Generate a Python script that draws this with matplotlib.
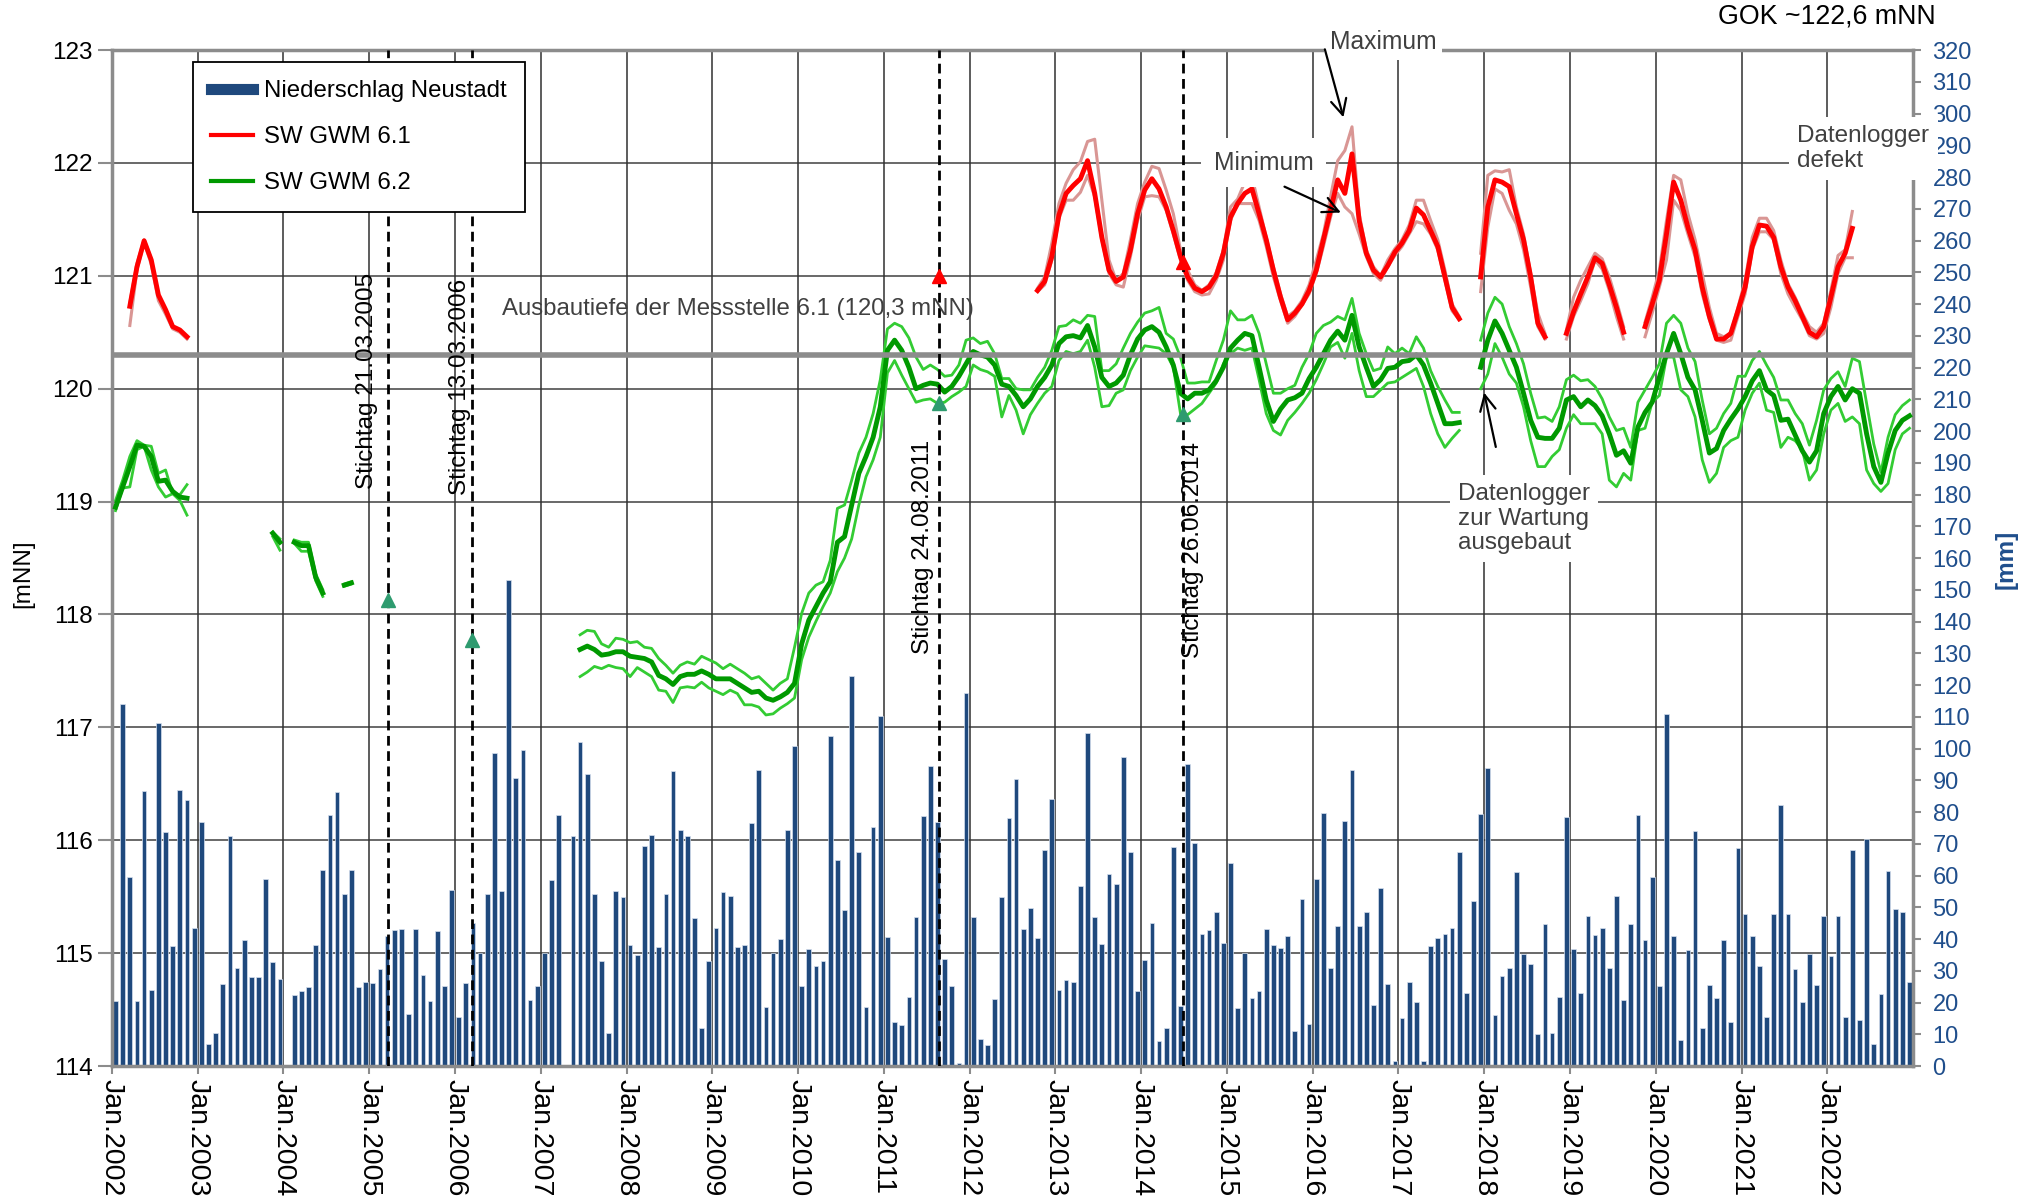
import matplotlib
matplotlib.use('Agg')
import matplotlib.pyplot as plt
from matplotlib.lines import Line2D
import numpy as np

plt.rcParams['font.family'] = ['Liberation Sans', 'DejaVu Sans']

# monthly precipitation Neustadt [mm], Jan 2002 .. Dec 2022
precip = [
    20.5, 114, 59.4, 20.4, 86.7, 23.8, 108, 73.8, 37.9, 87, 83.8, 43.4,
    77, 7.1, 10.3, 25.7, 72.3, 30.9, 39.8, 28, 28, 59, 32.8, 27.3,
    0, 22.5, 23.6, 25, 38.1, 61.8, 79, 86.4, 54.3, 61.6, 25, 26.5,
    26.1, 30.7, 40.9, 42.7, 43.1, 16.5, 43.3, 28.7, 20.5, 42.5, 25.1, 55.4,
    15.3, 26.2, 45.1, 35.5, 54.3, 98.7, 55.2, 153, 90.7, 99.5, 20.9, 25.3,
    35.6, 58.5, 79.2, 0, 72.5, 102, 92, 54.3, 33, 10.3, 55.1, 53.3,
    38.2, 35.1, 69.2, 72.9, 37.5, 54.1, 93, 74.2, 72.5, 46.7, 12.1, 33,
    43.6, 54.8, 53.6, 37.4, 38, 76.4, 93.3, 18.5, 35.5, 40.1, 74.2, 100.9,
    25.2, 37, 31.4, 33.2, 104, 65, 49.2, 123, 67.5, 18.5, 75.2, 110.2,
    40.8, 13.9, 13, 21.9, 47.1, 78.7, 94.4, 76.9, 33.6, 25.2, 1, 117.4,
    47, 8.5, 6.7, 21.2, 53.2, 78, 90.4, 43.3, 49.9, 40.3, 68.1, 84.2,
    23.8, 27.1, 26.6, 56.8, 104.8, 47.1, 38.5, 60.5, 57.4, 97.4, 67.5, 23.6,
    33.5, 44.9, 8, 12.1, 68.9, 18.8, 95, 70.2, 41.5, 42.7, 48.6, 38.7,
    63.9, 18.3, 35.6, 21.3, 23.5, 43.3, 38.1, 37.3, 41, 10.9, 52.7, 13.3,
    59, 79.7, 30.9, 44, 77.1, 93.3, 44.2, 48.6, 19.3, 56.2, 25.7, 1.7,
    15, 26.4, 20.1, 1.7, 37.8, 40.2, 41.7, 43.6, 67.5, 23.1, 52.1, 79.3,
    93.9, 16, 28.5, 30.8, 61.1, 35.3, 32.2, 10, 44.6, 10.5, 21.6, 78.4,
    37, 23, 47.3, 41.2, 43.5, 30.9, 53.6, 20.9, 44.8, 79, 39.6, 59.4,
    25.1, 111, 41, 8.3, 36.6, 74.1, 12.1, 25.6, 21.4, 39.6, 13.8, 68.8,
    47.9, 41, 31.4, 15.4, 47.8, 82.1, 47.8, 30.6, 20.3, 35.2, 25.6, 47.3,
    34.8, 47.3, 15.4, 68, 14.5, 71.4, 6.9, 22.6, 61.4, 49.6, 48.6, 26.6,
]
years = list(range(2002, 2023))

# SW GWM 6.1 [mNN] - segments (first month index, month index 0 = Jan 2002)
gwm61_start = [2, 129, 191, 203, 214]
gwm61_mid = [
    [120.73, 121.08, 121.31, 121.14, 120.83, 120.70, 120.55, 120.52, 120.46],
    [120.87, 120.95, 121.17, 121.54, 121.73, 121.80, 121.86, 122.02, 121.73, 121.34,
     121.05, 120.95, 120.99, 121.23, 121.55, 121.76, 121.86, 121.77, 121.61, 121.40,
     121.17, 120.99, 120.89, 120.86, 120.90, 121.00, 121.20, 121.52, 121.64, 121.73,
     121.77, 121.55, 121.32, 121.05, 120.81, 120.61, 120.67, 120.75, 120.87, 121.05,
     121.32, 121.58, 121.85, 121.73, 122.08, 121.49, 121.20, 121.05, 120.99, 121.09,
     121.21, 121.29, 121.40, 121.60, 121.54, 121.40, 121.26, 120.99, 120.72, 120.62],
    [120.99, 121.61, 121.85, 121.83, 121.79, 121.55, 121.32, 120.99, 120.58, 120.46],
    [120.49, 120.68, 120.84, 120.99, 121.16, 121.11, 120.92, 120.72, 120.50],
    [120.55, 120.75, 120.96, 121.37, 121.83, 121.67, 121.43, 121.23, 120.90, 120.64,
     120.44, 120.44, 120.49, 120.69, 120.90, 121.26, 121.45, 121.44, 121.34, 121.08,
     120.90, 120.78, 120.64, 120.50, 120.46, 120.55, 120.81, 121.08, 121.20, 121.42],
]
gwm61_max = [
    [120.76, 121.11, 121.32, 121.15, 120.80, 120.68, 120.55, 120.52, 120.45],
    [120.89, 120.99, 121.29, 121.64, 121.82, 121.94, 122.01, 122.19, 122.21, 121.67,
     121.14, 120.96, 121.02, 121.32, 121.64, 121.83, 121.97, 121.95, 121.76, 121.55,
     121.23, 121.05, 120.92, 120.87, 120.92, 121.03, 121.23, 121.61, 121.68, 121.83,
     121.88, 121.61, 121.34, 121.08, 120.84, 120.64, 120.69, 120.78, 120.92, 121.14,
     121.37, 121.70, 122.02, 122.11, 122.32, 121.55, 121.23, 121.08, 121.00, 121.14,
     121.24, 121.32, 121.45, 121.67, 121.67, 121.49, 121.32, 121.05, 120.75, 120.64],
    [121.20, 121.89, 121.93, 121.92, 121.94, 121.61, 121.37, 121.02, 120.67, 120.49],
    [120.52, 120.81, 120.96, 121.08, 121.20, 121.15, 120.99, 120.78, 120.55],
    [120.59, 120.81, 121.05, 121.49, 121.89, 121.85, 121.55, 121.32, 121.02, 120.72,
     120.49, 120.46, 120.49, 120.72, 120.96, 121.34, 121.51, 121.51, 121.40, 121.14,
     120.93, 120.81, 120.67, 120.55, 120.50, 120.58, 120.87, 121.18, 121.23, 121.57],
]
gwm61_min = [
    [120.56, 121.05, 121.30, 121.10, 120.78, 120.66, 120.53, 120.50, 120.44],
    [120.86, 120.92, 121.14, 121.51, 121.67, 121.67, 121.74, 121.89, 121.70, 121.32,
     121.02, 120.92, 120.90, 121.17, 121.49, 121.70, 121.71, 121.70, 121.58, 121.37,
     121.14, 120.96, 120.86, 120.83, 120.84, 120.96, 121.14, 121.49, 121.64, 121.64,
     121.64, 121.49, 121.26, 120.99, 120.78, 120.58, 120.64, 120.74, 120.84, 121.02,
     121.26, 121.52, 121.73, 121.61, 121.55, 121.37, 121.17, 121.02, 120.96, 121.08,
     121.18, 121.26, 121.37, 121.48, 121.46, 121.37, 121.23, 120.96, 120.69, 120.61],
    [120.86, 121.43, 121.77, 121.73, 121.58, 121.46, 121.23, 120.90, 120.55, 120.44],
    [120.44, 120.64, 120.78, 120.93, 121.14, 121.06, 120.87, 120.64, 120.44],
    [120.46, 120.67, 120.90, 121.14, 121.67, 121.58, 121.37, 121.17, 120.84, 120.61,
     120.43, 120.41, 120.43, 120.64, 120.84, 121.23, 121.39, 121.39, 121.32, 121.02,
     120.84, 120.72, 120.61, 120.47, 120.44, 120.49, 120.72, 121.02, 121.16, 121.16],
]

# SW GWM 6.2 [mNN]
gwm62_start = [0, 22, 25, 32, 65, 191]
gwm62_mid = [
    [118.95, 119.13, 119.31, 119.50, 119.49, 119.40, 119.18, 119.19, 119.09, 119.04, 119.03],
    [118.72, 118.64],
    [118.64, 118.61, 118.61, 118.33, 118.19],
    [118.26, 118.28],
    [117.69, 117.72, 117.69, 117.64, 117.65, 117.67, 117.67, 117.63, 117.62, 117.61,
     117.58, 117.46, 117.43, 117.38, 117.45, 117.47, 117.47, 117.50, 117.47, 117.43,
     117.43, 117.43, 117.39, 117.35, 117.31, 117.32, 117.26, 117.24, 117.27, 117.31,
     117.39, 117.74, 117.95, 118.07, 118.19, 118.29, 118.64, 118.69, 118.97, 119.25,
     119.40, 119.57, 119.84, 120.34, 120.43, 120.34, 120.19, 120.00, 120.03, 120.05,
     120.04, 119.97, 120.02, 120.11, 120.22, 120.33, 120.30, 120.28, 120.21, 120.04,
     120.02, 119.94,
     119.84, 119.91, 120.02, 120.10, 120.21, 120.40, 120.46, 120.47, 120.45, 120.56,
     120.37, 120.10, 120.02, 120.05, 120.12, 120.30, 120.44, 120.52, 120.55, 120.50,
     120.37, 120.21, 119.96, 119.91, 119.96, 119.96, 119.99, 120.07, 120.19, 120.36,
     120.43, 120.49, 120.47, 120.19, 119.90, 119.71, 119.82, 119.90, 119.92, 119.96,
     120.09, 120.19, 120.31, 120.43, 120.51, 120.43, 120.65, 120.37, 120.19, 120.02,
     120.08, 120.18, 120.19, 120.24, 120.25, 120.30, 120.21, 120.05, 119.87, 119.69,
     119.69, 119.70],
    [120.19, 120.43, 120.60, 120.49, 120.34, 120.19, 119.96, 119.72, 119.57, 119.56,
     119.56, 119.65, 119.90, 119.93, 119.84, 119.90, 119.85, 119.76, 119.60, 119.41,
     119.45, 119.34, 119.66, 119.79, 119.88, 120.10, 120.31, 120.49, 120.31, 120.10,
     119.99, 119.72, 119.43, 119.47, 119.63, 119.73, 119.82, 119.93, 120.07, 120.16,
     119.99, 119.94, 119.72, 119.73, 119.59, 119.45, 119.35, 119.45, 119.78, 119.93,
     120.02, 119.90, 120.00, 119.96, 119.60, 119.31, 119.17, 119.43, 119.63, 119.72,
     119.76],
]
gwm62_max = [
    [119.01, 119.19, 119.40, 119.54, 119.50, 119.49, 119.25, 119.28, 119.07, 119.06, 119.15],
    [118.73, 118.67],
    [118.66, 118.64, 118.64, 118.36, 118.22],
    [118.27, 118.29],
    [117.82, 117.86, 117.85, 117.74, 117.71, 117.79, 117.78, 117.75, 117.76, 117.71,
     117.70, 117.61, 117.55, 117.48, 117.55, 117.58, 117.56, 117.63, 117.60, 117.57,
     117.52, 117.56, 117.52, 117.48, 117.43, 117.45, 117.39, 117.33, 117.39, 117.43,
     117.71, 118.01, 118.19, 118.26, 118.29, 118.48, 118.94, 118.97, 119.19, 119.43,
     119.57, 119.78, 120.08, 120.53, 120.58, 120.55, 120.45, 120.28, 120.17, 120.21,
     120.17, 120.11, 120.12, 120.21, 120.43, 120.45, 120.40, 120.42, 120.31, 120.09,
     120.09, 120.00,
     119.99, 119.99, 120.10, 120.19, 120.34, 120.55, 120.56, 120.61, 120.58, 120.65,
     120.64, 120.16, 120.16, 120.22, 120.36, 120.49, 120.59, 120.67, 120.69, 120.72,
     120.49, 120.44, 120.28, 120.05, 120.05, 120.06, 120.06, 120.25, 120.43, 120.69,
     120.61, 120.61, 120.65, 120.49, 120.22, 119.96, 119.96, 120.00, 120.03, 120.19,
     120.31, 120.49, 120.56, 120.59, 120.64, 120.61, 120.80, 120.49, 120.31, 120.16,
     120.18, 120.37, 120.31, 120.36, 120.31, 120.46, 120.36, 120.16, 120.02, 119.90,
     119.79, 119.79],
    [120.43, 120.67, 120.81, 120.75, 120.55, 120.40, 120.22, 119.96, 119.74, 119.75,
     119.71, 119.84, 120.08, 120.12, 120.07, 120.08, 120.02, 119.91, 119.75, 119.63,
     119.65, 119.48, 119.88, 119.99, 120.10, 120.22, 120.58, 120.65, 120.58, 120.36,
     120.24, 119.90, 119.60, 119.65, 119.78, 119.87, 120.11, 120.11, 120.25, 120.33,
     120.21, 120.10, 119.90, 119.90, 119.78, 119.69, 119.50, 119.72, 119.99, 120.09,
     120.15, 120.02, 120.27, 120.24, 119.87, 119.51, 119.26, 119.57, 119.77, 119.85,
     119.90],
]
gwm62_min = [
    [118.92, 119.12, 119.13, 119.46, 119.49, 119.28, 119.13, 119.04, 119.07, 119.01, 118.88],
    [118.69, 118.57],
    [118.63, 118.56, 118.56, 118.30, 118.16],
    [118.25, 118.27],
    [117.45, 117.49, 117.54, 117.52, 117.55, 117.53, 117.52, 117.45, 117.53, 117.49,
     117.45, 117.33, 117.32, 117.22, 117.35, 117.36, 117.35, 117.40, 117.35, 117.32,
     117.29, 117.33, 117.30, 117.20, 117.20, 117.18, 117.11, 117.12, 117.17, 117.21,
     117.26, 117.60, 117.80, 117.94, 118.07, 118.19, 118.38, 118.50, 118.67, 118.97,
     119.22, 119.37, 119.57, 120.14, 120.25, 120.12, 120.00, 119.88, 119.90, 119.91,
     119.87, 119.88, 119.93, 119.97, 120.02, 120.21, 120.17, 120.15, 120.11, 119.75,
     119.94, 119.81,
     119.60, 119.77, 119.87, 119.96, 120.02, 120.25, 120.33, 120.31, 120.33, 120.43,
     120.19, 119.84, 119.85, 119.96, 119.99, 120.16, 120.28, 120.38, 120.37, 120.36,
     120.31, 120.19, 119.78, 119.77, 119.82, 119.87, 119.96, 120.05, 120.22, 120.31,
     120.36, 120.34, 120.36, 120.08, 119.78, 119.63, 119.59, 119.72, 119.79, 119.87,
     119.96, 120.08, 120.22, 120.37, 120.41, 120.27, 120.49, 120.16, 119.93, 119.93,
     119.99, 120.05, 120.06, 120.10, 120.14, 120.18, 120.02, 119.78, 119.60, 119.48,
     119.56, 119.63],
    [120.00, 120.13, 120.40, 120.28, 120.13, 120.05, 119.84, 119.54, 119.31, 119.31,
     119.40, 119.46, 119.65, 119.77, 119.69, 119.69, 119.69, 119.60, 119.19, 119.13,
     119.25, 119.19, 119.63, 119.65, 119.88, 119.94, 120.28, 120.28, 119.99, 119.93,
     119.75, 119.37, 119.17, 119.25, 119.48, 119.54, 119.57, 119.81, 119.96, 120.05,
     119.81, 119.79, 119.48, 119.57, 119.54, 119.46, 119.19, 119.28, 119.60, 119.81,
     119.87, 119.71, 119.75, 119.69, 119.28, 119.16, 119.09, 119.16, 119.46, 119.60,
     119.65],
]

# reference days (day, month, year) and measured levels
stichtag_dates = [(21, 3, 2005), (13, 3, 2006), (24, 8, 2011), (26, 6, 2014)]
stichtag_labels = ['Stichtag 21.03.2005', 'Stichtag 13.03.2006',
                   'Stichtag 24.08.2011', 'Stichtag 26.06.2014']
stich61 = [None, None, 121.0, 121.12]
stich62 = [118.13, 117.77, 119.87, 119.78]
ausbautiefe = 120.3

C_BAR = '#1f497d'
C_RED = '#ff0000'
C_PINK = '#d99694'
C_GRN = '#009900'
C_LGRN = '#33cc33'
C_TXT = '#404040'
C_AX = '#8c8c8c'


def month_pos(d, m, y):
    return (y - 2002) * 12 + (m - 1) + (d - 1) / 31.0


fig = plt.figure(figsize=(20.43, 11.97), dpi=100)
rect = [0.0548, 0.1094, 0.8816, 0.8488]
axb = fig.add_axes(rect)
axl = fig.add_axes(rect, sharex=axb)
axl.set_zorder(axb.get_zorder() + 1)
axl.patch.set_visible(False)

nmon = len(precip)
xb = np.arange(nmon) + 0.5

# grid (drawn behind the bars)
for lv in range(115, 123):
    axb.plot([0, nmon], [lv, lv], color='#404040', lw=1.1, transform=axl.transData, zorder=0.5)
for k in range(1, len(years)):
    axb.axvline(12 * k, color='#303030', lw=1.1, zorder=0.5)

axb.bar(xb, precip, width=0.66, color=C_BAR, edgecolor='#d6e0ee', linewidth=0.5, zorder=2)
axb.set_ylim(0, 320)
axb.set_xlim(0, nmon)
axb.yaxis.tick_right()
axb.set_yticks(range(0, 321, 10))
axb.tick_params(axis='y', direction='out', length=6, width=1.5, color=C_AX,
                labelcolor='#1f4e8c', labelsize=17, pad=8)
axb.set_xticks([12 * k for k in range(len(years))])
axb.set_xticklabels(['Jan.%d' % y for y in years], rotation=-90, fontsize=20.5)
axb.tick_params(axis='x', direction='out', length=6, width=1.5, color=C_AX, pad=3)
for s in ['left', 'right', 'top', 'bottom']:
    axb.spines[s].set_color(C_AX)
    axb.spines[s].set_linewidth(2.5)

# groundwater levels
for st, mx, mn in zip(gwm62_start, gwm62_max, gwm62_min):
    xs = np.arange(st, st + len(mx)) + 0.5
    axl.plot(xs, mx, color=C_LGRN, lw=2, zorder=3)
    axl.plot(xs, mn, color=C_LGRN, lw=2, zorder=3)
for st, md in zip(gwm62_start, gwm62_mid):
    xs = np.arange(st, st + len(md)) + 0.5
    axl.plot(xs, md, color=C_GRN, lw=3.5, zorder=4)
for st, mx, mn in zip(gwm61_start, gwm61_max, gwm61_min):
    xs = np.arange(st, st + len(mx)) + 0.5
    axl.plot(xs, mx, color=C_PINK, lw=2.2, zorder=3)
    axl.plot(xs, mn, color=C_PINK, lw=2.2, zorder=3)
for st, md in zip(gwm61_start, gwm61_mid):
    xs = np.arange(st, st + len(md)) + 0.5
    axl.plot(xs, md, color=C_RED, lw=3.5, zorder=4)

axl.axhline(ausbautiefe, color=C_AX, lw=4, zorder=5)
axl.text(54.6, 120.71, 'Ausbautiefe der Messstelle 6.1 (120,3 mNN)', fontsize=17.3,
         color=C_TXT, ha='left', va='center', zorder=6)

# reference days
for (d, m, y), lab, v61, v62 in zip(stichtag_dates, stichtag_labels, stich61, stich62):
    xp = month_pos(d, m, y)
    axl.axvline(xp, color='black', lw=2, dashes=(3.5, 2), zorder=5)
    if v61 is not None:
        axl.plot(xp, v61, marker='^', color=C_RED, ms=10, zorder=6, clip_on=False)
    axl.plot(xp, v62, marker='^', color='#2e9b6f', ms=10, zorder=6)
lab_pos = [(35.7, 120.07), (48.7, 120.02), (113.5, 118.6), (151.3, 118.57)]
for lab, (tx, ty) in zip(stichtag_labels, lab_pos):
    axl.text(tx, ty, lab, rotation=90, fontsize=17.5, ha='center', va='center', zorder=6)

box = dict(facecolor='white', edgecolor='none', pad=4)
axl.text(170.4, 123.07, 'Maximum', fontsize=17.7, color=C_TXT, ha='left', va='center',
         bbox=box, zorder=7, clip_on=False)
axl.annotate('', xy=(172.4, 122.38), xytext=(169.6, 123.03),
             arrowprops=dict(arrowstyle='->', lw=1.6, color='black', mutation_scale=28),
             zorder=8, annotation_clip=False)
axl.text(161.1, 122.0, 'Minimum', fontsize=17.7, color=C_TXT, ha='center', va='center',
         bbox=dict(facecolor='white', edgecolor='none', pad=9), zorder=7)
axl.annotate('', xy=(172.3, 121.55), xytext=(163.7, 121.80),
             arrowprops=dict(arrowstyle='->', lw=1.6, color='black', mutation_scale=28), zorder=8)
axl.text(188.3, 118.85, 'Datenlogger\nzur Wartung\nausgebaut', fontsize=17.5, color=C_TXT,
         ha='left', va='center', linespacing=1.15,
         bbox=dict(facecolor='white', edgecolor='none', pad=6), zorder=7)
axl.annotate('', xy=(191.9, 119.99), xytext=(193.7, 119.46),
             arrowprops=dict(arrowstyle='->', lw=1.6, color='black', mutation_scale=28), zorder=8)
axl.text(235.8, 122.13, 'Datenlogger\ndefekt', fontsize=17.5, color=C_TXT, ha='left',
         va='center', linespacing=1.15, bbox=dict(facecolor='white', edgecolor='none', pad=6),
         zorder=7, clip_on=False)

axl.set_ylim(114, 123)
axl.set_yticks(range(114, 124))
axl.tick_params(axis='y', direction='out', length=10, width=1.5, color=C_AX, labelsize=17.5, pad=4)
axl.tick_params(axis='x', which='both', bottom=False, labelbottom=False)
for s in axl.spines.values():
    s.set_visible(False)

handles = [Line2D([], [], color=C_BAR, lw=8), Line2D([], [], color=C_RED, lw=3),
           Line2D([], [], color=C_GRN, lw=3)]
leg = axl.legend(handles, ['Niederschlag Neustadt', 'SW GWM 6.1', 'SW GWM 6.2'],
                 loc='upper left', bbox_to_anchor=(0.045, 0.988), fontsize=17.3,
                 frameon=True, fancybox=False, edgecolor='black', framealpha=1,
                 handlelength=1.75, labelspacing=1.0, borderpad=0.75, handletextpad=0.45,
                 borderaxespad=0.0)
leg.get_frame().set_linewidth(1.3)
leg.set_zorder(9)

fig.text(0.0113, 0.521, '[mNN]', rotation=90, fontsize=17.5, ha='center', va='center')
fig.text(0.982, 0.533, '[mm]', rotation=90, fontsize=17.5, fontweight='bold',
         color='#1f4e8c', ha='center', va='center')
fig.text(0.9476, 0.986, 'GOK ~122,6 mNN', fontsize=19.3, ha='right', va='center')

fig.savefig('out.png', dpi=100)
